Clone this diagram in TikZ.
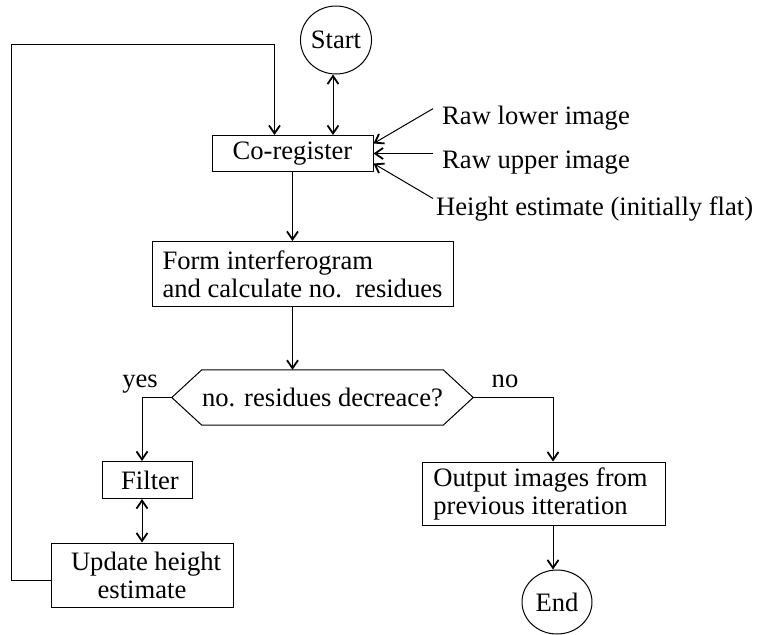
\documentclass[tikz,border=0pt]{standalone}
\usepackage{fontspec}
\setmainfont{Liberation Serif}
\usetikzlibrary{arrows.meta,calc,shapes.geometric}
\begin{document}
\begin{tikzpicture}[x=1pt,y=-1pt,
  font=\fontsize{26.6}{28}\selectfont,
  box/.style={draw, line width=1pt, rectangle, inner sep=0pt},
  term/.style={draw, line width=1pt, ellipse, inner sep=0pt},
  conn/.style={line width=1pt},
  tip/.tip={Straight Barb[length=8pt,width=11pt,line width=1.8pt]},
  arr/.style={conn, -tip},
  darr/.style={conn, tip-tip},
  lbl/.style={inner sep=0pt, anchor=base west}]
\useasboundingbox (0,0) rectangle (761,635);

\node[term, minimum width=68pt, minimum height=68pt] (start) at (336,40) {Start};
\node[box, minimum width=161pt, minimum height=36pt] (coreg) at (292.5,153.5) {Co-register};
\node[box, minimum width=301pt, minimum height=65pt, align=left] (form) at (302.5,274) {Form interferogram\\and calculate no.\ \ residues};
\node[minimum width=301pt, minimum height=55pt, inner sep=0pt] (dec) at (322.5,397.5) {no. residues decreace?};
\draw[conn] ($(dec.north west)+(30,0)$) -- ($(dec.north east)+(-30,0)$) -- (dec.east) -- ($(dec.south east)+(-30,0)$) -- ($(dec.south west)+(30,0)$) -- (dec.west) -- cycle;
\node[box, minimum width=90pt, minimum height=37pt] (filter) at (147,480) {\hspace*{6pt}Filter};
\node[box, minimum width=182pt, minimum height=64pt, align=center] (update) at (142,575) {\hspace*{8pt}Update height\\estimate};
\node[box, minimum width=243pt, minimum height=63pt, align=left] (out) at (543.5,493.5) {Output images from\hspace*{6pt}\\previous itteration};
\node[term, minimum width=70pt, minimum height=64pt] (end) at (557,602) {End};

\node[lbl] (rl) at (442,124) {Raw lower image};
\node[lbl] (ru) at (442,168) {Raw upper image};
\node[lbl] (he) at (436,215) {Height estimate (initially flat)};
\node[anchor=base, inner sep=0pt] (yes) at (140,387) {yes};
\node[anchor=base, inner sep=0pt] (no) at (505,387) {no};

\coordinate (lc) at (11,44);

\draw[darr] ([xshift=-3pt]start.south) -- ([xshift=-3pt]start.south |- coreg.north);
\draw[arr] ([shift={(-9,-9)}]rl.west) -- ([yshift=10pt]coreg.east);
\draw[arr] ([xshift=-9pt]ru.west |- coreg.east) -- (coreg.east);
\draw[arr] ([shift={(-3,-10)}]he.west) -- ([yshift=-10pt]coreg.east);
\draw[arr] (coreg.south) -- (coreg.south |- form.north);
\draw[arr] (coreg.south |- form.south) -- (coreg.south |- dec.north);
\draw[arr] (dec.west) -| ([xshift=-5pt]filter.north);
\draw[darr] ([xshift=-5pt]filter.south) -- (update.north);
\draw[arr] (dec.east) -| ([xshift=-4pt]end.north |- out.north);
\draw[arr] ([xshift=-4pt]end.north |- out.south) -- ([xshift=-4pt]end.north);
\draw[arr] ([yshift=-5pt]update.west) -| (lc) -| ([xshift=-18pt]coreg.north);
\end{tikzpicture}
\end{document}
